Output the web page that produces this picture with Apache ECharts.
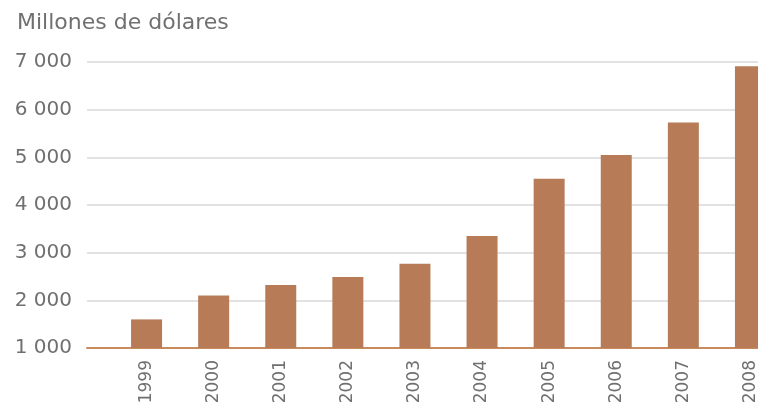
<!DOCTYPE html>
<html>
<head>
<meta charset="utf-8">
<script src="https://cdn.jsdelivr.net/npm/echarts@6/dist/echarts.min.js"></script>
<style>
  html, body { margin: 0; padding: 0; background: #fff; }
  #chart { width: 758px; height: 411px; }
</style>
</head>
<body>
<div id="chart"></div>
<script>
// datos
const years = ['1999', '2000', '2001', '2002', '2003', '2004', '2005', '2006', '2007', '2008']
const values = [1600, 2100, 2320, 2490, 2770, 3350, 4550, 5050, 5730, 6910]
const yMin = 1000
const yMax = 7000
const yStep = 1000
const unitLabel = 'Millones de dólares'

const barColor = '#b77c57'
const baseColor = '#c98a5e'
const gridColor = '#e2e2e2'
const textColor = '#707070'
const font = 'DejaVu Sans'

const myChart = echarts.init(document.getElementById('chart'))

const fmt = (v) => {
  const s = String(v)
  return s.length > 3 ? s.slice(0, s.length - 3) + ' ' + s.slice(-3) : s
}

const option = {
  animation: false,
  title: {
    text: unitLabel,
    left: 12,
    top: 7,
    textStyle: {
      color: textColor,
      fontFamily: font,
      fontSize: 22,
      fontWeight: 'normal'
    }
  },
  grid: [
    // rejilla y etiquetas del eje y
    { left: 87, right: 0, top: 62, bottom: 63, outerBoundsMode: 'none' },
    // barras (la ultima columna queda cortada por el borde)
    { left: 113, right: -26, top: 62, bottom: 63, outerBoundsMode: 'none' }
  ],
  xAxis: [
    {
      gridIndex: 0,
      type: 'category',
      data: [''],
      axisLine: { show: true, lineStyle: { color: baseColor, width: 2 } },
      axisTick: { show: false },
      axisLabel: { show: false }
    },
    {
      gridIndex: 1,
      type: 'category',
      data: years,
      axisLine: { show: false },
      axisTick: { show: false },
      axisLabel: {
        rotate: 90,
        margin: 12,
        color: textColor,
        fontFamily: font,
        fontSize: 17
      }
    }
  ],
  yAxis: [
    {
      gridIndex: 0,
      type: 'value',
      min: yMin,
      max: yMax,
      interval: yStep,
      axisLine: { show: false },
      axisTick: { show: false },
      axisLabel: {
        margin: 15,
        color: textColor,
        fontFamily: font,
        fontSize: 20,
        formatter: fmt
      },
      splitLine: { show: true, lineStyle: { color: gridColor, width: 2 } }
    },
    {
      gridIndex: 1,
      type: 'value',
      min: yMin,
      max: yMax,
      interval: yStep,
      show: false,
      splitLine: { show: false }
    }
  ],
  series: [
    {
      type: 'bar',
      xAxisIndex: 1,
      yAxisIndex: 1,
      barWidth: 31,
      data: values,
      itemStyle: { color: barColor },
      z: 3
    }
  ]
}
myChart.setOption(option)
</script>
</body>
</html>
